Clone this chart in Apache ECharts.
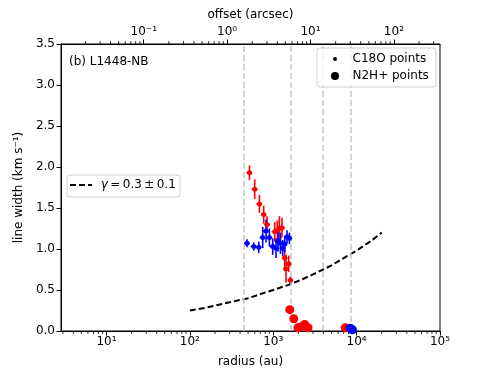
<!DOCTYPE html>
<html>
<head>
<meta charset="utf-8">
<script src="https://cdn.jsdelivr.net/npm/echarts@6/dist/echarts.min.js"></script>
<style>
html, body { margin: 0; padding: 0; background: #fff; }
#chart { width: 490px; height: 368px; }
</style>
</head>
<body>
<div id="chart"></div>
<script>
// C18O points (small markers with error bars), red- and blue-shifted
const c18oRedR = [519, 600, 683, 769, 843, 1042, 1123, 1186, 1274, 1373, 1423, 1534, 1607, 7000];
const c18oRedV = [1.93, 1.73, 1.55, 1.42, 1.30, 1.21, 1.23, 1.25, 1.26, 0.89, 0.76, 0.82, 0.62, 0.05];
const c18oRedE = [0.09, 0.12, 0.11, 0.11, 0.10, 0.12, 0.12, 0.15, 0.12, 0.16, 0.17, 0.10, 0.05, 0.02];
const c18oBlueR = [485, 584, 670, 748, 820, 900, 986, 1081, 1141, 1219, 1299, 1373, 1463, 1564];
const c18oBlueV = [1.07, 1.03, 1.02, 1.14, 1.22, 1.14, 1.03, 1.01, 1.09, 1.07, 1.01, 1.06, 1.15, 1.13];
const c18oBlueE = [0.05, 0.05, 0.07, 0.13, 0.14, 0.11, 0.10, 0.12, 0.12, 0.13, 0.10, 0.10, 0.08, 0.07];
const xErrFrac = 0.08;

// N2H+ points (big markers)
const n2hRedR = [1578, 1762, 1983, 2119, 2384, 2612, 7330];
const n2hRedV = [0.26, 0.15, 0.04, 0.05, 0.08, 0.04, 0.04];
const n2hBlueR = [8400, 8900];
const n2hBlueV = [0.035, 0.015];

// power-law fit curve
const fitR = [100, 150, 200, 300, 500, 700, 1000, 1500, 2000, 3000, 5000, 7000, 10000, 15000, 20000];
const fitV = [0.25, 0.28, 0.31, 0.35, 0.40, 0.45, 0.50, 0.56, 0.61, 0.69, 0.80, 0.89, 0.98, 1.10, 1.20];

// vertical reference lines (au)
const vLines = [443, 1607, 3917, 8550];

const rMin = 2.85, rMax = 1e5;
const distPc = 280;   // au per arcsec

const FONT = 'DejaVu Sans';
const FS = 12;
const sup = { '-': '\u207b', '0': '\u2070', '1': '\u00b9', '2': '\u00b2', '3': '\u00b3',
  '4': '\u2074', '5': '\u2075', '6': '\u2076', '7': '\u2077', '8': '\u2078', '9': '\u2079' };
function powLabel(v) {
  const l = Math.log10(v), e = Math.round(l);
  if (Math.abs(l - e) > 1e-6) return '';
  return '10' + String(e).split('').map(c => sup[c]).join('');
}
function minorTicks(lo, hi) {
  const out = [];
  for (let k = -3; k <= 6; k++) {
    for (let m = 2; m <= 9; m++) {
      const v = m * Math.pow(10, k);
      if (v > lo && v < hi) out.push(v);
    }
  }
  return out;
}

function errBars(rs, vs, es, color) {
  return {
    type: 'custom', xAxisIndex: 0, yAxisIndex: 0, z: 3, silent: true,
    data: rs.map((r, i) => [r, vs[i], es[i]]),
    encode: { x: 0, y: 1 },
    renderItem(params, api) {
      const r = api.value(0), v = api.value(1), e = api.value(2);
      const a = api.coord([r, v + e]), b = api.coord([r, v - e]);
      const l = api.coord([r * (1 - xErrFrac), v]), g = api.coord([r * (1 + xErrFrac), v]);
      return { type: 'group', children: [
        { type: 'line', shape: { x1: a[0], y1: a[1], x2: b[0], y2: b[1] }, style: { stroke: color, lineWidth: 1.6 } },
        { type: 'line', shape: { x1: l[0], y1: l[1], x2: g[0], y2: g[1] }, style: { stroke: color, lineWidth: 1.6 } }
      ] };
    }
  };
}
function minorTickSeries(vals, axisIdx, yv, dir) {
  return {
    type: 'custom', xAxisIndex: axisIdx, yAxisIndex: 0, silent: true, z: 1,
    data: vals.map(v => [v, yv]),
    encode: { x: 0, y: 1 },
    renderItem(params, api) {
      const p = api.coord([api.value(0), yv]);
      return { type: 'line', shape: { x1: p[0], y1: p[1], x2: p[0], y2: p[1] + dir * 3 },
        style: { stroke: '#000', lineWidth: 0.8 } };
    }
  };
}

const chart = echarts.init(document.getElementById('chart'));
const axisCommon = {
  axisLine: { show: true, lineStyle: { color: '#000', width: 1 } },
  axisTick: { show: true, length: 4.5, lineStyle: { color: '#000', width: 1 } },
  splitLine: { show: false },
  nameTextStyle: { color: '#000', fontFamily: FONT, fontSize: FS },
  axisLabel: { color: '#000', fontFamily: FONT, fontSize: FS }
};
const legendText = { fontFamily: FONT, fontSize: FS, color: '#000' };

chart.setOption({
  animation: false,
  textStyle: { fontFamily: FONT },
  grid: { left: 61, right: 50, top: 44, bottom: 37, show: true, borderColor: '#000', borderWidth: 1,
    containLabel: false, outerBoundsMode: 'none' },
  xAxis: [
    Object.assign({}, axisCommon, {
      type: 'log', logBase: 10, min: rMin, max: rMax, position: 'bottom',
      name: 'radius (au)', nameLocation: 'middle', nameGap: 25,
      axisLabel: Object.assign({}, axisCommon.axisLabel, { formatter: powLabel, margin: 5, showMinLabel: false })
    }),
    Object.assign({}, axisCommon, {
      type: 'log', logBase: 10, min: rMin / distPc, max: rMax / distPc, position: 'top',
      name: 'offset (arcsec)', nameLocation: 'middle', nameGap: 20,
      axisLabel: Object.assign({}, axisCommon.axisLabel, { formatter: powLabel, margin: 6, showMinLabel: false, showMaxLabel: false })
    })
  ],
  yAxis: Object.assign({}, axisCommon, {
    type: 'value', min: 0, max: 3.5, interval: 0.5,
    name: 'line width (km s\u207b\u00b9)', nameLocation: 'middle', nameGap: 36,
    axisLabel: Object.assign({}, axisCommon.axisLabel, { formatter: v => v.toFixed(1), margin: 6 })
  }),
  legend: [
    { data: [{ name: 'C18O points', icon: 'circle', itemStyle: { color: '#000' } }], left: 333, top: 53, padding: 0,
      itemWidth: 25, itemHeight: 4, z: 11, selectedMode: false, textStyle: legendText },
    { data: [{ name: 'N2H+ points', icon: 'circle', itemStyle: { color: '#000' } }], left: 331, top: 70, padding: 0,
      itemWidth: 25, itemHeight: 8, z: 11, selectedMode: false, textStyle: legendText },
    { data: [{ name: 'gamma', itemStyle: { opacity: 0 } }], left: 69, top: 179, padding: 0, itemWidth: 22, itemHeight: 10,
      z: 11, selectedMode: false, itemGap: 0,
      formatter: () => ' {i|\u03b3}\u2009=\u20090.3\u2009\u00b1\u20090.1',
      textStyle: Object.assign({}, legendText, { rich: { i: { fontStyle: 'italic', fontFamily: FONT, fontSize: FS } } }) }
  ],
  graphic: [
    { type: 'rect', shape: { x: 317, y: 48, width: 119, height: 39, r: 3 }, z: 10,
      style: { fill: 'rgba(255,255,255,0.8)', stroke: '#d0d0d0', lineWidth: 1 } },
    { type: 'rect', shape: { x: 67, y: 175, width: 113, height: 22, r: 3 }, z: 10,
      style: { fill: 'rgba(255,255,255,0.8)', stroke: '#d0d0d0', lineWidth: 1 } },
    { type: 'text', left: 69, top: 56, z: 10,
      style: { text: '(b) L1448-NB', fontFamily: FONT, fontSize: FS, fill: '#000' } }
  ],
  series: [
    {
      type: 'line', name: 'gamma', xAxisIndex: 0, yAxisIndex: 0, z: 4,
      data: fitR.map((r, i) => [r, fitV[i]]),
      symbol: 'none', itemStyle: { color: '#000' },
      lineStyle: { color: '#000', width: 2, type: [6, 3] },
      markLine: {
        silent: true, symbol: 'none', label: { show: false },
        lineStyle: { color: '#c8c8c8', width: 1.5, type: [6, 3] },
        data: vLines.map(x => ({ xAxis: x }))
      }
    },
    errBars(c18oRedR, c18oRedV, c18oRedE, '#ff0000'),
    errBars(c18oBlueR, c18oBlueV, c18oBlueE, '#0000ff'),
    {
      type: 'scatter', name: 'C18O points', xAxisIndex: 0, yAxisIndex: 0, z: 5,
      symbolSize: 5, itemStyle: { color: '#000', opacity: 1 },
      data: c18oRedR.map((r, i) => ({ value: [r, c18oRedV[i]], itemStyle: { color: '#ff0000', opacity: 1 } }))
        .concat(c18oBlueR.map((r, i) => ({ value: [r, c18oBlueV[i]], itemStyle: { color: '#0000ff', opacity: 1 } })))
    },
    {
      type: 'scatter', name: 'N2H+ points', xAxisIndex: 0, yAxisIndex: 0, z: 5,
      symbolSize: 9, itemStyle: { color: '#000', opacity: 1 },
      data: n2hRedR.map((r, i) => ({ value: [r, n2hRedV[i]], itemStyle: { color: '#ff0000', opacity: 1 } }))
        .concat(n2hBlueR.map((r, i) => ({ value: [r, n2hBlueV[i]], itemStyle: { color: '#0000ff', opacity: 1 } })))
    },
    minorTickSeries(minorTicks(rMin, rMax), 0, 0, 1),
    minorTickSeries(minorTicks(rMin / distPc, rMax / distPc), 1, 3.5, -1)
  ]
});
</script>
</body>
</html>
